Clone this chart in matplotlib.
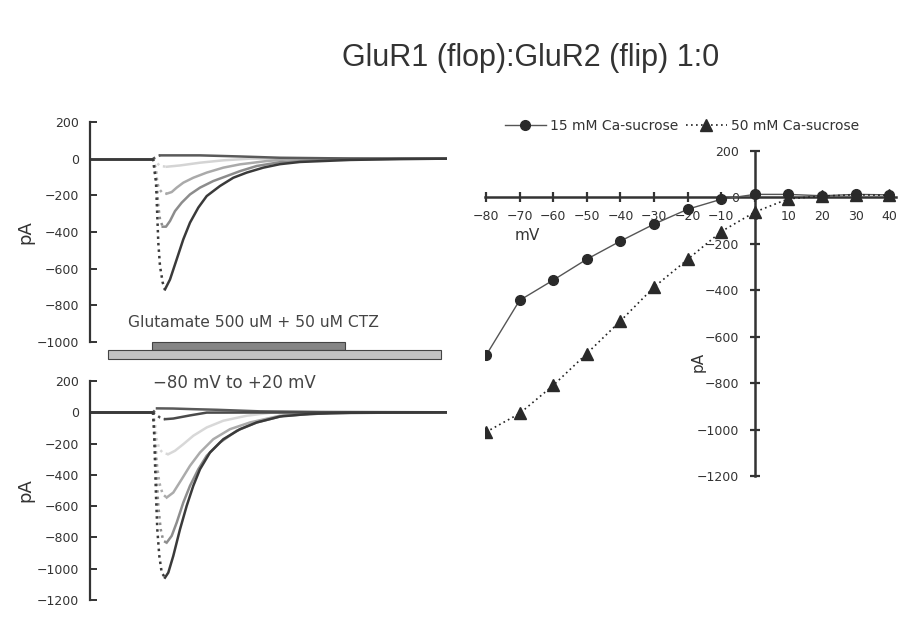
import numpy as np
import matplotlib
matplotlib.use("Agg")
import matplotlib.pyplot as plt
from matplotlib.patches import Rectangle

# ============================================================
# DATA
# ============================================================

# time axis for the current traces, arbitrary ms
T_ON = 63          # start of glutamate application
GLU_ON, GLU_OFF = 62, 255
HOLD_ON, HOLD_OFF = 18, 351

# upper panel traces, pA
top_dark_t = [0, 63, 66, 67.3, 68.3, 70, 72.7, 75, 80, 86.7, 93.3, 100, 108.3, 116.7,
              130, 143.3, 156.7, 173.3, 190, 210, 260, 310, 357]
top_dark_i = [0, 0, -131, -313, -458, -586, -676, -713, -659, -549, -440, -349, -267, -204,
              -149, -104, -76, -49, -30, -18, -7, -2, 0]
top_mid_t = [0, 63, 66.7, 68.3, 70, 72.7, 76, 80, 85, 91.7, 100, 110, 123.3, 136.7, 150,
             166.7, 190, 240, 300, 357]
top_mid_i = [0, 0, -131, -258, -331, -371, -371, -340, -286, -240, -195, -158, -122, -95, -68,
             -40, -19, -6, -2, 0]
top_light_t = [0, 63, 66, 67.3, 69.3, 71.7, 76.7, 81.7, 86.7, 93.3, 103.3, 116.7, 133.3, 150,
               176.7, 196.7, 260, 357]
top_light_i = [0, 0, -58, -131, -167, -182, -191, -182, -158, -131, -104, -76, -49, -31,
               -13, -4, -1, 0]
top_pale_t = [0, 63, 66.7, 70, 76.7, 90, 110, 133.3, 160, 357]
top_pale_i = [0, 0, -22, -40, -44, -37, -22, -9, 0, 0]
top_out_t = [0, 63, 70, 110, 150, 190, 260, 357]
top_out_i = [0, 0, 18, 18, 12, 5, 1, 0]

# lower panel traces, pA
bot_dark_t = [0, 63, 64, 65, 66, 67.3, 69.3, 71.7, 75, 78.3, 83.3, 90, 96.7, 103.3, 110, 120,
              133.3, 150, 166.7, 190, 220, 260, 357]
bot_dark_i = [0, 0, -108, -321, -534, -748, -918, -1025, -1057, -1025, -918, -748, -598, -470,
              -364, -257, -172, -108, -65, -27, -10, -3, 0]
bot_mid_t = [0, 63, 65, 66.7, 68.3, 70.7, 73.3, 76.7, 81.7, 86.7, 93.3, 100, 108.3, 116.7, 130,
             146.7, 166.7, 193.3, 240, 357]
bot_mid_i = [0, 0, -214, -428, -598, -748, -822, -833, -790, -705, -577, -470, -364, -278, -193,
             -118, -65, -22, -5, 0]
bot_light_t = [0, 63, 65, 66.7, 69.3, 72.7, 76.7, 83.3, 91.7, 100, 110, 123.3, 140, 160, 190,
               240, 357]
bot_light_i = [0, 0, -150, -321, -449, -524, -545, -513, -428, -342, -257, -172, -108, -65,
               -22, -5, 0]
bot_pale_t = [0, 63, 65, 66.7, 69.3, 73.3, 78.3, 85, 93.3, 103.3, 116.7, 133.3, 156.7, 183.3, 357]
bot_pale_i = [0, 0, -65, -172, -236, -261, -268, -246, -204, -150, -97, -54, -22, -1, 0]
bot_small_t = [0, 63, 65, 70, 75, 83.3, 100, 116.7, 357]
bot_small_i = [0, 0, -12, -33, -44, -40, -20, -2, 0]
bot_out_t = [0, 63, 67, 83, 103, 127, 170, 230, 357]
bot_out_i = [0, 0, 25, 24, 20, 16, 6, 2, 0]

# I-V relation
mv = [-80, -70, -60, -50, -40, -30, -20, -10, 0, 10, 20, 30, 40]
i_15mM = [-681, -444, -357, -267, -189, -116, -52, -9, 12, 12, 6, 12, 10]
i_50mM = [-1011, -931, -810, -673, -533, -387, -268, -148, -64, -7, 5, 10, 8]

# ============================================================
# FIGURE
# ============================================================

W, H = 913, 623
fig = plt.figure(figsize=(W / 100, H / 100), dpi=100)
fig.patch.set_facecolor("white")


def fx(px):
    return px / W


def fy(py):
    return 1 - py / H


def draw_trace(ax, t, i, color, lw=1.8):
    # baseline solid, fast rising phase dotted (sparse samples), decay solid
    t = np.asarray(t, float)
    i = np.asarray(i, float)
    k = int(np.argmax(np.abs(i)))
    on = int(np.searchsorted(t, T_ON))
    ax.plot(t[:on + 1], i[:on + 1], color=color, lw=lw, solid_capstyle="butt")
    ax.plot(t[on:k + 1], i[on:k + 1], color=color, lw=lw, ls=(0, (1, 1.6)))
    ax.plot(t[k:], i[k:], color=color, lw=lw, solid_joinstyle="round")


def style_trace_axes(ax):
    for s in ["top", "right", "bottom"]:
        ax.spines[s].set_visible(False)
    ax.spines["left"].set_linewidth(1.6)
    ax.spines["left"].set_color("#333333")
    ax.set_xticks([])
    ax.tick_params(axis="y", direction="in", length=5, width=1.4,
                   color="#333333", labelsize=9, labelcolor="#333333", pad=8)
    ax.set_xlim(0, 357)
    ax.patch.set_alpha(0)


# ---------- upper traces ----------
ax1 = fig.add_axes([fx(90), fy(342), fx(357), (342 - 122) / H])
draw_trace(ax1, top_pale_t, top_pale_i, "#d4d4d4")
draw_trace(ax1, top_light_t, top_light_i, "#aaaaaa")
draw_trace(ax1, top_mid_t, top_mid_i, "#8c8c8c")
draw_trace(ax1, top_out_t, top_out_i, "#5a5a5a")
draw_trace(ax1, top_dark_t, top_dark_i, "#3a3a3a")
ax1.set_ylim(-1000, 200)
ax1.set_yticks([200, 0, -200, -400, -600, -800, -1000])
ax1.set_yticklabels(["200", "0", "−200", "−400", "−600", "−800", "−1000"])
style_trace_axes(ax1)

# solution bars under the upper traces
ax1.add_patch(Rectangle((GLU_ON, -1044), GLU_OFF - GLU_ON, 42, facecolor="#858585",
                        edgecolor="#444444", lw=0.8, clip_on=False))
ax1.add_patch(Rectangle((HOLD_ON, -1090), HOLD_OFF - HOLD_ON, 46, facecolor="#c2c2c2",
                        edgecolor="#444444", lw=0.8, clip_on=False))

# ---------- lower traces ----------
ax2 = fig.add_axes([fx(90), fy(600), fx(357), (600 - 381) / H])
draw_trace(ax2, bot_pale_t, bot_pale_i, "#d8d8d8")
draw_trace(ax2, bot_light_t, bot_light_i, "#ababab")
draw_trace(ax2, bot_mid_t, bot_mid_i, "#8e8e8e")
draw_trace(ax2, bot_out_t, bot_out_i, "#5a5a5a")
draw_trace(ax2, bot_small_t, bot_small_i, "#4a4a4a")
draw_trace(ax2, bot_dark_t, bot_dark_i, "#3a3a3a")
ax2.set_ylim(-1200, 200)
ax2.set_yticks([200, 0, -200, -400, -600, -800, -1000, -1200])
ax2.set_yticklabels(["200", "0", "−200", "−400", "−600", "−800", "−1000", "−1200"])
style_trace_axes(ax2)

fig.text(fx(25), fy(232), "pA", rotation=90, ha="center", va="center",
         fontsize=13, color="#333333")
fig.text(fx(25), fy(490), "pA", rotation=90, ha="center", va="center",
         fontsize=13, color="#333333")
fig.text(fx(128), fy(327), "Glutamate 500 uM + 50 uM CTZ", ha="left", va="baseline",
         fontsize=11.2, color="#444444")
fig.text(fx(153), fy(388), "−80 mV to +20 mV", ha="left", va="baseline",
         fontsize=12, color="#444444")

# ---------- I-V plot ----------
ax3 = fig.add_axes([fx(485), fy(476), fx(411), (476 - 150.7) / H])
ax3.plot(mv, i_15mM, color="#555555", lw=1.0, marker="o", ms=7,
         mfc="#2a2a2a", mec="#2a2a2a", label="15 mM Ca-sucrose", zorder=3)
ax3.plot(mv, i_50mM, color="#222222", lw=1.2, ls=(0, (1, 2)), marker="^", ms=8,
         mfc="#2a2a2a", mec="#2a2a2a", label="50 mM Ca-sucrose", zorder=3)
ax3.set_xlim(-80.3, 42)
ax3.set_ylim(-1200, 200)
for s in ["top", "right"]:
    ax3.spines[s].set_visible(False)
ax3.spines["left"].set_position(("data", 0))
ax3.spines["bottom"].set_position(("data", 0))
for s in ["left", "bottom"]:
    ax3.spines[s].set_linewidth(1.8)
    ax3.spines[s].set_color("#333333")
ax3.set_xticks(mv)
ax3.set_xticklabels([str(v).replace("-", "−") for v in mv])
ax3.set_yticks([200, 0, -200, -400, -600, -800, -1000, -1200])
ax3.set_yticklabels(["200", "0", "−200", "−400", "−600", "−800", "−1000", "−1200"])
ax3.tick_params(direction="inout", length=7, width=1.6, color="#333333",
                labelsize=9, labelcolor="#333333")
ax3.tick_params(axis="x", pad=6)
ax3.tick_params(axis="y", pad=8)
ax3.patch.set_alpha(0)

fig.text(fx(527), fy(235), "mV", ha="center", va="center", fontsize=11, color="#333333")
fig.text(fx(698), fy(362), "pA", rotation=90, ha="center", va="center",
         fontsize=11, color="#333333")

fig.legend(*ax3.get_legend_handles_labels(), loc="center",
           bbox_to_anchor=(fx(682), fy(126)), ncol=2, frameon=False, fontsize=10,
           handlelength=3, handletextpad=0.3, columnspacing=0.5,
           labelcolor="#333333")

fig.text(fx(531), fy(66), "GluR1 (flop):GluR2 (flip) 1:0", ha="center", va="baseline",
         fontsize=22, family="Liberation Sans", color="#333333")

fig.savefig("out.png", dpi=100, facecolor="white")
